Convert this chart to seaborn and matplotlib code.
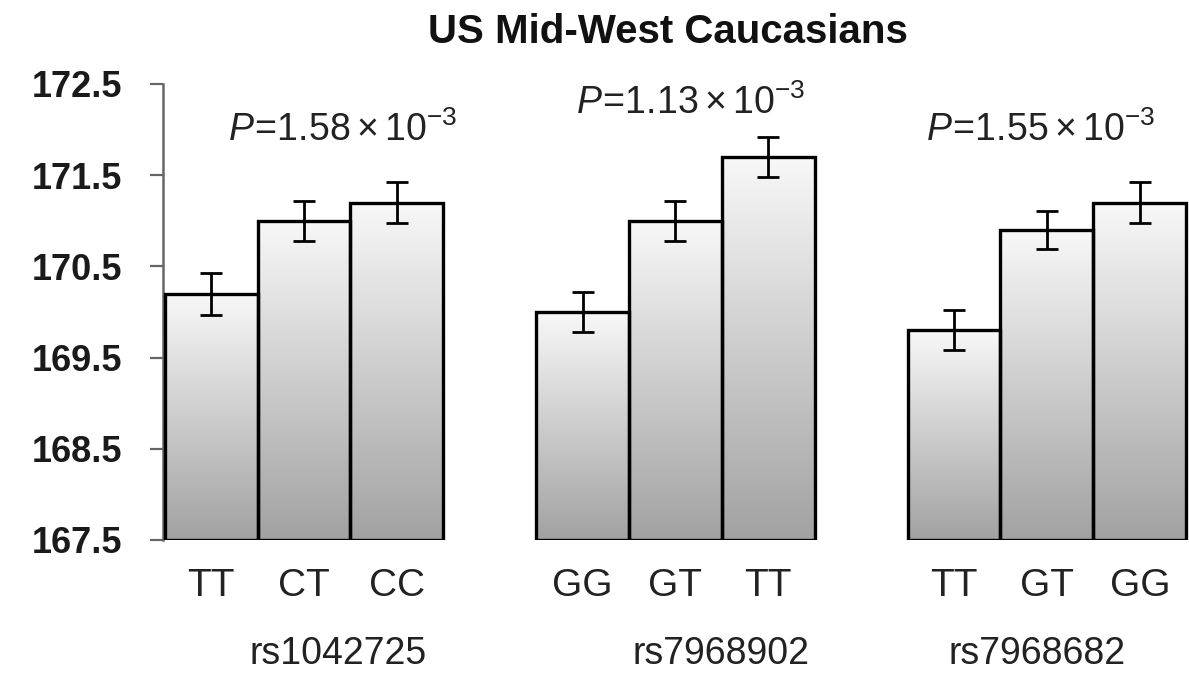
import numpy as np
import pandas as pd
import matplotlib
matplotlib.use("Agg")
import matplotlib.pyplot as plt
from matplotlib.colors import LinearSegmentedColormap
import seaborn as sns

# Mean height (cm) by genotype for three SNPs, with standard errors
snps = ["rs1042725", "rs7968902", "rs7968682"]
genotypes = ["TT", "CT", "CC", "GG", "GT", "TT", "TT", "GT", "GG"]
heights = [170.2, 171.0, 171.2, 170.0, 171.0, 171.7, 169.8, 170.9, 171.2]
errors = [0.23, 0.22, 0.22, 0.22, 0.22, 0.22, 0.22, 0.21, 0.22]
p_labels = [r"$P\!=\!1.58\times10^{-3}$", r"$P\!=\!1.13\times10^{-3}$", r"$P\!=\!1.55\times10^{-3}$"]
y_ticks = [167.5, 168.5, 169.5, 170.5, 171.5, 172.5]
title = "US Mid-West Caucasians"

# bar slots: three per SNP, one empty slot between SNPs
positions = [0, 1, 2, 4, 5, 6, 8, 9, 10]
base = 167.5

sns.set_theme(style="white")
plt.rcParams["font.family"] = ["Liberation Sans", "DejaVu Sans"]
plt.rcParams["mathtext.fontset"] = "custom"
plt.rcParams["mathtext.rm"] = "Liberation Sans"
plt.rcParams["mathtext.it"] = "Liberation Sans:italic"
plt.rcParams["mathtext.bf"] = "Liberation Sans:bold"

df = pd.DataFrame({"pos": positions, "height": heights, "genotype": genotypes})

fig = plt.figure(figsize=(11.89, 6.77), dpi=100)
ax = fig.add_axes([0.137, 0.2024, 0.863, 0.6736])

sns.barplot(data=df, x="pos", y="height", native_scale=True, width=1.0,
            color="white", edgecolor="black", linewidth=2.4, errorbar=None, ax=ax)

cmap = LinearSegmentedColormap.from_list("barfade", ["#a2a2a2", "#f8f8f8"])
grad = np.linspace(0, 1, 256).reshape(-1, 1)
for patch, h in zip(ax.patches, heights):
    patch.set_y(base)
    patch.set_height(h - base)
    patch.set_facecolor("none")
    patch.set_zorder(3)
    x0 = patch.get_x()
    im = ax.imshow(grad, extent=(x0, x0 + patch.get_width(), base, h),
                   origin="lower", aspect="auto", cmap=cmap, zorder=2)
    im.set_clip_path(patch)

ax.errorbar(positions, heights, yerr=errors, fmt="none", ecolor="black",
            elinewidth=2.0, capsize=8, capthick=2.0, zorder=4)

ax.set_xlim(-0.52, 10.53)
ax.set_ylim(base, 172.5)
ax.set_yticks(y_ticks)
ax.set_yticklabels([f"{t:.1f}" for t in y_ticks], fontsize=26, fontweight="bold")
ax.set_xticks(positions)
ax.set_xticklabels(genotypes, fontsize=28)
ax.tick_params(axis="x", length=0, pad=20, colors="#222222")
ax.tick_params(axis="y", length=9.5, width=1.6, color="#666666", pad=20,
               left=True, labelcolor="#1a1a1a")
ax.set_xlabel("")
ax.set_ylabel("")

for side in ["top", "right", "bottom"]:
    ax.spines[side].set_visible(False)
ax.spines["left"].set_color("#666666")
ax.spines["left"].set_linewidth(1.8)

# significance per SNP
p_pos = [(1.42, 171.99), (5.16, 172.29), (8.93, 171.99)]
for (px, py), lab in zip(p_pos, p_labels):
    ax.text(px, py, lab, fontsize=27, ha="center", va="center", color="#222222")

# SNP names beneath each group
for xf, name in zip([0.284, 0.606, 0.872], snps):
    fig.text(xf, 0.008, name, fontsize=27, ha="center", va="bottom", color="#222222")

fig.text(0.562, 0.953, title, fontsize=29, fontweight="bold", ha="center", va="center",
         color="#111111")

fig.savefig("out.png", dpi=100, facecolor="white")
